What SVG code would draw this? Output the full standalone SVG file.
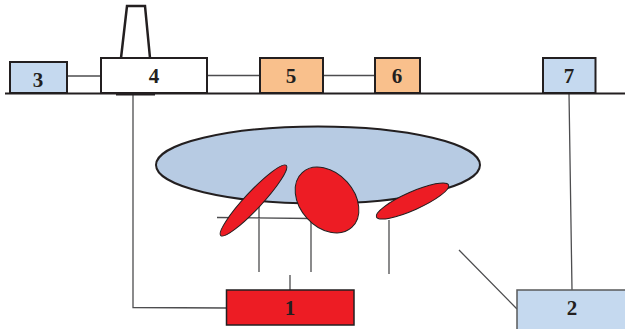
<svg xmlns="http://www.w3.org/2000/svg" width="625" height="329" viewBox="0 0 625 329">
<style>
text{font-family:"Liberation Serif",serif;font-weight:bold;font-size:21px;fill:#231f20;text-anchor:middle}
.box{stroke:#231f20;stroke-width:2}
.c{fill:none;stroke:#4d4d4f;stroke-width:1.300}
.red{fill:#ed1c24;stroke:#231f20;stroke-width:1}
</style>
<rect width="625" height="329" fill="#fff"/>
<g id="connectors">
<path class="c" d="M67 76H101M207 75.500H260M323 75.500H375M133 94V307.500L227 308M290 275V290M259 205V272M311 218V272M389 220V274M217 217.500L311 218.500M569 93L572 290M459 250L517 309"/>
</g>
<g id="ground"><path d="M5 93.500H625" stroke="#231f20" stroke-width="2" fill="none"/><path d="M116 94.500H155" stroke="#231f20" stroke-width="2" fill="none"/></g>
<g id="chimney"><path d="M121 58L127 6H145L150 58" fill="#fff" stroke="#231f20" stroke-width="2.500"/></g>
<g id="node3"><rect class="box" x="10" y="62" width="57" height="31" fill="#c5d9ef"/><text x="38" y="87">3</text></g>
<g id="node4"><rect class="box" x="101" y="58" width="106" height="35" fill="#fff"/><text x="154" y="83">4</text></g>
<g id="node5"><rect class="box" x="260" y="58" width="63" height="35" fill="#f9c08c"/><text x="291" y="83">5</text></g>
<g id="node6"><rect class="box" x="375" y="58" width="45" height="35" fill="#f9c08c"/><text x="397" y="83">6</text></g>
<g id="node7"><rect class="box" x="543" y="58" width="52.500" height="35" fill="#c5d9ef"/><text x="569" y="83">7</text></g>
<g id="reservoir"><ellipse cx="318" cy="165" rx="162" ry="38.500" fill="#b7cbe3" stroke="#231f20" stroke-width="2"/></g>
<g id="lobes">
<ellipse class="red" cx="253.500" cy="200.500" rx="48" ry="8.500" transform="rotate(-47 253.500 200.500)"/>
<ellipse class="red" cx="327" cy="200" rx="37" ry="27" transform="rotate(48 327 200)"/>
<ellipse class="red" cx="412.500" cy="201" rx="39.500" ry="9" transform="rotate(-24 412.500 201)"/>
</g>
<g id="node1"><rect x="226.500" y="290" width="127.500" height="35" fill="#ed1c24" stroke="#231f20" stroke-width="1.500"/><text x="290" y="315">1</text></g>
<g id="node2"><rect x="517" y="290" width="110" height="42" fill="#c5d9ef" stroke="#58595b" stroke-width="1.500"/><text x="572" y="315">2</text></g>
</svg>
